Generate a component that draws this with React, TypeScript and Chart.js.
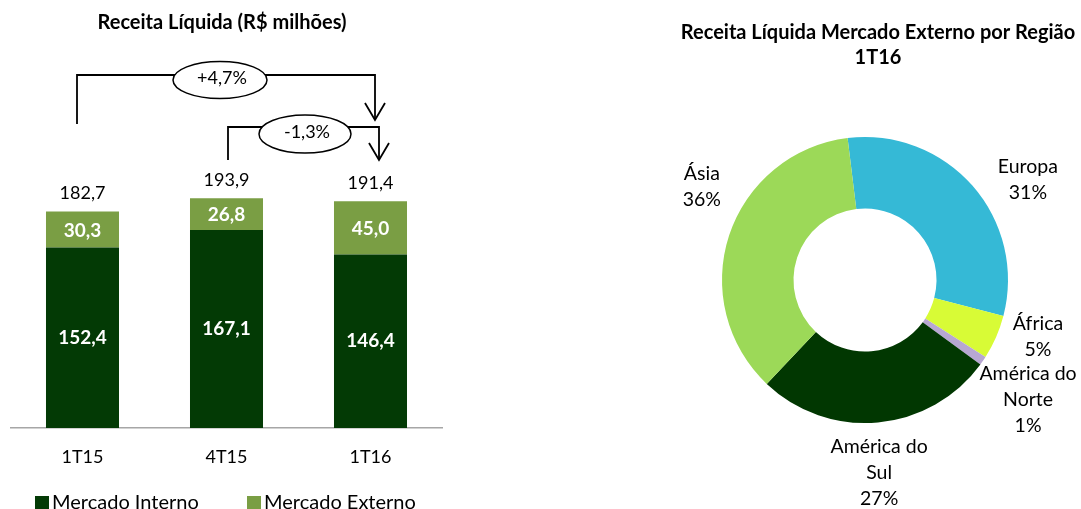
import React, { useEffect, useRef } from "react";
import { Chart, registerables } from "chart.js";

Chart.register(...registerables);

// ---------- data ----------
const quarters = ["1T15", "4T15", "1T16"];
const mercadoInterno = [152.4, 167.1, 146.4];
const mercadoExterno = [30.3, 26.8, 45.0];
const totals = [182.7, 193.9, 191.4];
const variationLabels = ["+4,7%", "-1,3%"];
const variationFrom = [0, 1];
const variationTo = [2, 2];

const regionNames = ["Europa", "África", "América do Norte", "América do Sul", "Ásia"];
const regionLines = [["Europa"], ["África"], ["América do", "Norte"], ["América do", "Sul"], ["Ásia"]];
const regionValues = [31, 5, 1, 27, 36];

// ---------- styles ----------
const FONT = "Lato, 'Open Sans', sans-serif";
const DARK = "#033a05";
const LIGHT = "#7a9e44";
const regionColors = ["#35b9d6", "#d8fb36", "#b7a7d2", "#013701", "#9cd958"];
const labelAngleShift = [9.7, -5.5, 1.8, 1, 11.6];
const labelRadius = [1.336, 1.273, 1.413, 1.35, 1.315];

// annotation layout (brackets)
const bracketTopY = [75, 127];
const bracketLeftEndY = [124, 160];
const bracketTipY = [120, 160];
const bracketLeftDx = [-5.5, 1.5];
const bracketRightDx = [4.5, 8.5];
const ellipseDx = [-6, 1.5];
const ellipseDy = [5, 7];
const ellipseRx = [47, 46];
const ellipseRy = [18.5, 19];

const fmt = (v: number) => v.toFixed(1).replace(".", ",");

function BarChart() {
  const ref = useRef<HTMLCanvasElement>(null);
  useEffect(() => {
    const canvas = ref.current!;
    const plugin = {
      id: "barDecor",
      afterDatasetsDraw(chart: any) {
        const ctx = chart.ctx as CanvasRenderingContext2D;
        const m0 = chart.getDatasetMeta(0);
        const m1 = chart.getDatasetMeta(1);
        ctx.save();
        ctx.textAlign = "center";
        ctx.textBaseline = "middle";
        ctx.fillStyle = "#ffffff";
        ctx.font = `bold 19px ${FONT}`;
        m0.data.forEach((bar: any, i: number) => {
          const p = bar.getProps(["x", "y", "base"], true);
          ctx.fillText(fmt(mercadoInterno[i]), p.x, (p.y + p.base) / 2);
        });
        m1.data.forEach((bar: any, i: number) => {
          const p = bar.getProps(["x", "y", "base"], true);
          ctx.fillText(fmt(mercadoExterno[i]), p.x, (p.y + p.base) / 2 + 1);
        });
        ctx.fillStyle = "#000000";
        ctx.font = `18px ${FONT}`;
        const xs: number[] = [];
        m1.data.forEach((bar: any, i: number) => {
          const p = bar.getProps(["x", "y"], true);
          xs.push(p.x);
          const ty = chart.scales.y.getPixelForValue(totals[i]);
          ctx.fillText(fmt(totals[i]), p.x, ty - 18);
        });
        // brackets
        ctx.strokeStyle = "#000000";
        ctx.lineWidth = 1.8;
        variationLabels.forEach((lab, k) => {
          const xl = xs[variationFrom[k]] + bracketLeftDx[k];
          const xr = xs[variationTo[k]] + bracketRightDx[k];
          const yt = bracketTopY[k];
          ctx.beginPath();
          ctx.moveTo(xl, bracketLeftEndY[k]);
          ctx.lineTo(xl, yt);
          ctx.lineTo(xr, yt);
          ctx.lineTo(xr, bracketTipY[k]);
          ctx.stroke();
          ctx.beginPath();
          ctx.moveTo(xr - 10, bracketTipY[k] - 17);
          ctx.lineTo(xr, bracketTipY[k]);
          ctx.lineTo(xr + 10, bracketTipY[k] - 17);
          ctx.stroke();
          const ex = (xl + xr) / 2 + ellipseDx[k];
          const ey = yt + ellipseDy[k];
          ctx.beginPath();
          ctx.ellipse(ex, ey, ellipseRx[k], ellipseRy[k], 0, 0, Math.PI * 2);
          ctx.fillStyle = "#ffffff";
          ctx.fill();
          ctx.lineWidth = 1.5;
          ctx.stroke();
          ctx.lineWidth = 1.8;
          ctx.fillStyle = "#000000";
          ctx.fillText(lab, ex + 2, ey - 2);
        });
        // title
        ctx.font = `bold 20px ${FONT}`;
        ctx.fillText("Receita Líquida (R$ milhões)", 222, 23);
        // legend
        ctx.textAlign = "left";
        ctx.textBaseline = "alphabetic";
        ctx.font = `20px ${FONT}`;
        const legendX = [35, 247];
        const names = ["Mercado Interno", "Mercado Externo"];
        const cols = [DARK, LIGHT];
        names.forEach((n, i) => {
          ctx.fillStyle = cols[i];
          ctx.fillRect(legendX[i], 496, 14, 14);
          ctx.fillStyle = "#000000";
          ctx.fillText(n, legendX[i] + 17, 509);
        });
        ctx.restore();
      },
    };
    const chart = new Chart(canvas, {
      type: "bar",
      data: {
        labels: quarters,
        datasets: [
          { label: "Mercado Interno", data: mercadoInterno, backgroundColor: DARK },
          { label: "Mercado Externo", data: mercadoExterno, backgroundColor: LIGHT },
        ],
      },
      options: {
        responsive: false,
        animation: false,
        events: [],
        layout: { padding: { left: 10.5, right: 7.5, top: 72.5, bottom: 41 } },
        datasets: { bar: { barPercentage: 0.507, categoryPercentage: 1 } },
        plugins: { legend: { display: false }, title: { display: false }, tooltip: { enabled: false } },
        scales: {
          x: {
            stacked: true,
            grid: { display: false, drawTicks: false },
            border: { display: true, color: "#a6a6a6", width: 1.5 },
            ticks: { color: "#000000", font: { family: FONT, size: 18 }, padding: 18 },
            afterFit: (s: any) => {
              s.height = 40;
            },
          },
          y: { stacked: true, display: false, min: 0, max: 300 },
        },
      },
      plugins: [plugin],
    } as any);
    return () => chart.destroy();
  }, []);
  return (
    <canvas
      ref={ref}
      width={450}
      height={509}
      style={{ position: "absolute", left: 0, top: 0, width: 450, height: 509 }}
    />
  );
}

function DoughnutChart() {
  const ref = useRef<HTMLCanvasElement>(null);
  useEffect(() => {
    const canvas = ref.current!;
    const plugin = {
      id: "donutDecor",
      afterDraw(chart: any) {
        const ctx = chart.ctx as CanvasRenderingContext2D;
        const meta = chart.getDatasetMeta(0);
        ctx.save();
        ctx.textAlign = "center";
        ctx.textBaseline = "middle";
        ctx.fillStyle = "#000000";
        ctx.font = `19.5px ${FONT}`;
        meta.data.forEach((arc: any, i: number) => {
          const p = arc.getProps(["x", "y", "startAngle", "endAngle", "outerRadius"], true);
          const mid = (p.startAngle + p.endAngle) / 2 + (labelAngleShift[i] * Math.PI) / 180;
          const r = p.outerRadius * labelRadius[i];
          const cx = p.x + Math.cos(mid) * r;
          const cy = p.y + Math.sin(mid) * r;
          const lines = [...regionLines[i], `${regionValues[i]}%`];
          const lh = 26;
          lines.forEach((t, j) => {
            ctx.fillText(t, cx, cy + (j - (lines.length - 1) / 2) * lh);
          });
        });
        ctx.font = `bold 20px ${FONT}`;
        ctx.fillText("Receita Líquida Mercado Externo por Região", 238, 33);
        ctx.fillText("1T16", 238, 58);
        ctx.restore();
      },
    };
    const chart = new Chart(canvas, {
      type: "doughnut",
      data: {
        labels: regionNames,
        datasets: [{ data: regionValues, backgroundColor: regionColors, borderWidth: 0 }],
      },
      options: {
        responsive: false,
        animation: false,
        events: [],
        rotation: -7,
        cutout: "50%",
        layout: { padding: { left: 82, right: 73, top: 137, bottom: 86 } },
        plugins: { legend: { display: false }, title: { display: false }, tooltip: { enabled: false } },
      },
      plugins: [plugin],
    } as any);
    return () => chart.destroy();
  }, []);
  return (
    <canvas
      ref={ref}
      width={441}
      height={509}
      style={{ position: "absolute", left: 640, top: 0, width: 441, height: 509 }}
    />
  );
}

export default function App() {
  return (
    <div
      style={{
        position: "absolute",
        left: 0,
        top: 0,
        width: 1081,
        height: 509,
        background: "#ffffff",
        overflow: "hidden",
      }}
    >
      <BarChart />
      <DoughnutChart />
    </div>
  );
}
